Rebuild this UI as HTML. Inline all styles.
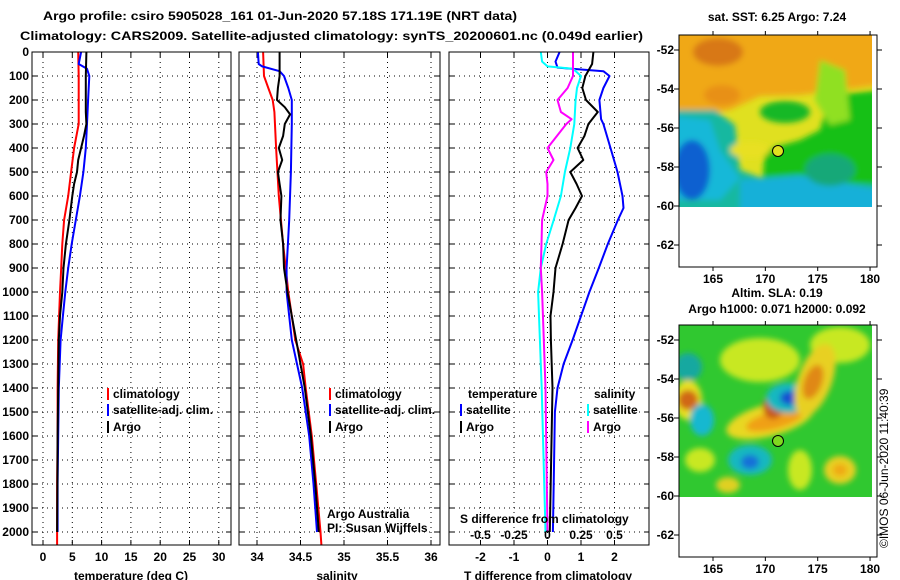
<!DOCTYPE html>
<html><head><meta charset="utf-8"><style>
html,body{margin:0;padding:0;background:#fff}
svg{display:block;font-family:"Liberation Sans",sans-serif}
.b{font-weight:bold;font-size:12px}
</style></head><body>
<svg id="chart" width="900" height="580" viewBox="0 0 900 580" xmlns="http://www.w3.org/2000/svg">
<defs>
<filter id="blur" x="-20%" y="-20%" width="140%" height="140%"><feGaussianBlur stdDeviation="3"/></filter>
<clipPath id="clipTop"><rect x="679" y="35" width="193" height="172"/></clipPath>
<clipPath id="clipBot"><rect x="679" y="325" width="193" height="172"/></clipPath>
</defs>
<text x="43" y="20" class="b" font-size="13" textLength="474" lengthAdjust="spacingAndGlyphs">Argo profile: csiro 5905028_161 01-Jun-2020 57.18S 171.19E (NRT data)</text>
<text x="20" y="40" class="b" font-size="13" textLength="623" lengthAdjust="spacingAndGlyphs">Climatology: CARS2009. Satellite-adjusted climatology: synTS_20200601.nc (0.049d earlier)</text>
<g id="panels"></g>
<g id="maps">
  <text x="777" y="21" class="b" text-anchor="middle">sat. SST: 6.25 Argo: 7.24</text>
  <g clip-path="url(#clipTop)">
    <rect x="679" y="35" width="193" height="172" fill="#e0e020"/>
    <g filter="url(#blur)">
      <polygon points="670,30 880,30 880,85 840,90 800,95 760,96 730,110 700,115 670,112" fill="#f0a818"/>
      <ellipse cx="718" cy="52" rx="25" ry="14" fill="#d87818"/>
      <ellipse cx="722" cy="95" rx="18" ry="10" fill="#e89018"/>
      <ellipse cx="785" cy="112" rx="25" ry="11" fill="#18b828"/>
      <polygon points="830,95 880,90 880,210 760,210 765,150 800,140 820,130" fill="#18c018"/>
      <polygon points="820,60 845,70 850,120 830,125 815,100" fill="#90e020"/>
      <polygon points="670,110 715,110 735,125 740,170 780,185 800,180 880,185 880,215 670,215" fill="#18b8a0"/>
      <polygon points="670,115 710,120 720,150 740,178 720,200 670,200" fill="#18b8d8"/>
      <polygon points="740,180 800,175 880,190 880,215 740,215" fill="#18b0d8"/>
      <ellipse cx="692" cy="170" rx="18" ry="30" fill="#1060d0"/>
      <ellipse cx="830" cy="170" rx="25" ry="16" fill="#18a878"/>
      <ellipse cx="750" cy="150" rx="20" ry="8" fill="#e8e020"/>
    </g>
  </g>
  <rect x="679" y="35" width="198" height="232" fill="none" stroke="#000" stroke-width="1"/>
  <circle cx="778" cy="151" r="5.5" fill="#e0e020" stroke="#000"/>
  <text x="777" y="297" class="b" text-anchor="middle">Altim. SLA: 0.19</text>
  <text x="777" y="313" class="b" text-anchor="middle">Argo h1000: 0.071 h2000: 0.092</text>
  <g clip-path="url(#clipBot)">
    <rect x="679" y="325" width="193" height="172" fill="#30c830"/>
    <g filter="url(#blur)">
      <ellipse cx="760" cy="360" rx="40" ry="22" fill="#c8e820"/>
      <ellipse cx="840" cy="345" rx="30" ry="18" fill="#c8e820"/>
      <ellipse cx="688" cy="367" rx="14" ry="14" fill="#18a8a0"/>
      <ellipse cx="688" cy="400" rx="14" ry="20" fill="#e8e020"/>
      <ellipse cx="688" cy="400" rx="10" ry="10" fill="#d06818"/>
      <ellipse cx="702" cy="420" rx="12" ry="16" fill="#18b8d0"/>
      <ellipse cx="770" cy="420" rx="45" ry="16" fill="#e8d820" transform="rotate(-15 770 420)"/>
      <ellipse cx="775" cy="420" rx="30" ry="9" fill="#f0a018" transform="rotate(-15 775 420)"/>
      <ellipse cx="773" cy="407" rx="10" ry="12" fill="#c85818"/>
      <ellipse cx="788" cy="398" rx="22" ry="15" fill="#18b8c0"/>
      <ellipse cx="790" cy="398" rx="10" ry="7" fill="#1850d0"/>
      <ellipse cx="815" cy="380" rx="17" ry="38" fill="#e8d020" transform="rotate(20 815 380)"/>
      <ellipse cx="813" cy="382" rx="9" ry="18" fill="#e08818" transform="rotate(20 813 382)"/>
      <ellipse cx="750" cy="460" rx="22" ry="15" fill="#18b8c0"/>
      <ellipse cx="750" cy="462" rx="9" ry="7" fill="#1870d8"/>
      <ellipse cx="840" cy="470" rx="16" ry="14" fill="#e8d020"/>
      <ellipse cx="840" cy="470" rx="7" ry="6" fill="#f0a818"/>
      <ellipse cx="700" cy="460" rx="15" ry="12" fill="#c8e820"/>
      <ellipse cx="728" cy="485" rx="12" ry="8" fill="#e0d020"/>
      <ellipse cx="800" cy="470" rx="12" ry="20" fill="#c8e820"/>
    </g>
  </g>
  <rect x="679" y="325" width="198" height="232" fill="none" stroke="#000" stroke-width="1"/>
  <circle cx="778" cy="441" r="5.5" fill="#80d820" stroke="#000"/>
  <text x="0" y="0" font-size="12" transform="translate(888 548) rotate(-90)">©IMOS 06-Jun-2020 11:40:39</text>
</g>
</svg>
<script>
// ---- data ----
var depthTicks = [0,100,200,300,400,500,600,700,800,900,1000,1100,1200,1300,1400,1500,1600,1700,1800,1900,2000];
var tempTicks = [0,5,10,15,20,25,30];
var salTicks = [34,34.5,35,35.5,36];
var salTickLabels = ["34","34.5","35","35.5","36"];
var tdiffTicks = [-2,-1,0,1,2];
var sdiffTicks = [-0.5,-0.25,0,0.25,0.5];
var sdiffTickLabels = ["-0.5","-0.25","0","0.25","0.5"];
var latTicks = [-52,-54,-56,-58,-60,-62];
var lonTicks = [165,170,175,180];

var tClimDepth = [0,100,200,300,400,500,600,700,800,900,1000,1200,1400,1600,1800,2000,2054];
var tClimVal   = [6.0,6.1,6.1,6.1,5.3,4.8,4.3,3.6,3.3,3.1,2.9,2.6,2.5,2.5,2.4,2.4,2.4];
var tSatDepth  = [0,50,70,100,200,300,400,500,600,700,800,900,1000,1100,1200,1400,1600,1800,2000];
var tSatVal    = [6.5,6.1,7.5,7.9,7.7,7.5,7.3,6.9,6.3,5.6,4.9,4.3,3.8,3.4,3.0,2.7,2.6,2.5,2.5];
var tArgoDepth = [0,100,250,300,350,400,450,500,550,600,700,800,900,1000,1100,1200,1400,1600,1800,2000];
var tArgoVal   = [7.4,7.3,7.3,7.4,7.0,6.5,6.0,5.8,5.3,5.0,4.5,3.9,3.5,3.3,2.9,2.7,2.6,2.5,2.45,2.4];

var sClimDepth = [0,100,150,200,250,400,600,800,1000,1200,1300,1400,1600,1800,2000,2054];
var sClimVal   = [34.07,34.08,34.13,34.18,34.2,34.22,34.25,34.3,34.36,34.44,34.53,34.56,34.63,34.68,34.73,34.74];
var sSatDepth  = [0,50,60,80,100,150,200,300,500,700,900,1000,1100,1200,1300,1400,1600,1800,2000];
var sSatVal    = [34.01,34.02,34.06,34.26,34.31,34.36,34.4,34.4,34.39,34.37,34.34,34.34,34.37,34.4,34.46,34.52,34.6,34.65,34.69];
var sArgoDepth = [0,100,150,200,230,260,300,350,400,450,500,550,600,700,800,900,1000,1100,1200,1300,1400,1600,1800,2000];
var sArgoVal   = [34.26,34.26,34.24,34.23,34.32,34.38,34.32,34.3,34.25,34.29,34.24,34.26,34.28,34.27,34.3,34.31,34.35,34.4,34.45,34.5,34.55,34.62,34.67,34.71];

var dtSatDepth = [0,40,65,80,100,150,200,280,300,400,500,600,650,700,800,900,1000,1100,1200,1300,1400,1500,2000];
var dtSatVal   = [0.36,0.24,0.3,1.67,1.85,1.67,1.55,1.6,1.67,1.88,2.09,2.24,2.27,2.1,1.8,1.53,1.25,1.0,0.75,0.48,0.3,0.22,0.16];
var dtArgoDepth = [0,50,100,150,200,250,300,350,400,450,500,550,600,650,700,750,800,900,1000,1100,1200,1400,2000];
var dtArgoVal   = [1.37,1.33,1.13,1.04,1.15,1.5,1.22,1.1,0.9,1.07,0.68,0.87,1.03,0.84,0.63,0.54,0.45,0.24,0.18,0.09,0.1,0.15,0.07];
var dsArgoDepth = [0,100,150,200,250,280,300,350,400,450,500,550,600,700,800,900,1000,1400,2000];
var dsArgoVal   = [0.19,0.19,0.15,0.075,0.1,0.18,0.14,0.07,0.0,0.045,-0.01,0.0,0.0,-0.04,-0.045,-0.05,-0.04,-0.015,0.0];
var dsSatDepth = [0,40,60,70,100,150,200,300,400,500,600,700,800,900,1000,1400,2000];
var dsSatVal   = [-0.05,-0.04,0.0,0.19,0.25,0.22,0.21,0.2,0.17,0.13,0.1,0.046,-0.01,-0.05,-0.07,-0.043,-0.015];

// ---- layout ----
var NS = "http://www.w3.org/2000/svg";
var g = document.getElementById('panels');
var top0 = 52, bot = 545;
function yD(d){ return top0 + d*0.24; }
var P1 = {l:32, r:231, x:function(v){return 43 + v*5.86;}};
var P2 = {l:239, r:440, x:function(v){return 257 + (v-34)*87;}};
var P3 = {l:449, r:649, x:function(v){return 547.5 + v*33.5;}};
function xS(v){ return 547.5 + v*134; }

function mk(tag, attrs, parent){
  var e = document.createElementNS(NS, tag);
  for (var k in attrs) e.setAttribute(k, attrs[k]);
  (parent||g).appendChild(e);
  return e;
}
function txt(x,y,s,cls,anchor,parent){
  var t = mk('text',{x:x,y:y,'class':cls||'b','text-anchor':anchor||'start'},parent);
  t.textContent = s;
  return t;
}
function frame(P, name){
  var r = mk('rect',{x:P.l,y:top0,width:P.r-P.l,height:bot-top0,fill:'none',stroke:'#000','stroke-width':1});
  
  
}
function hgrid(P){
  depthTicks.forEach(function(d){
    var y = yD(d);
    mk('line',{x1:P.l,x2:P.r,y1:y,y2:y,stroke:'#000','stroke-dasharray':'1,4'});
    mk('line',{x1:P.l,x2:P.l+5,y1:y,y2:y,stroke:'#000'});
    mk('line',{x1:P.r-5,x2:P.r,y1:y,y2:y,stroke:'#000'});
  });
}
function vgrid(P, ticks, fx){
  ticks.forEach(function(v){
    var x = fx(v);
    mk('line',{x1:x,x2:x,y1:top0,y2:bot,stroke:'#000','stroke-dasharray':'1,4'});
    mk('line',{x1:x,x2:x,y1:top0,y2:top0+5,stroke:'#000'});
    mk('line',{x1:x,x2:x,y1:bot-5,y2:bot,stroke:'#000'});
  });
}
function series(depths, vals, fx, color, name, w){
  var pts = depths.map(function(d,i){ return fx(vals[i]).toFixed(1)+','+yD(d).toFixed(1); }).join(' ');
  var p = mk('polyline',{points:pts,fill:'none',stroke:color,'stroke-width':w||2,'stroke-linejoin':'round'});
  
  
}
function legendItem(x,y,color,label,name){
  mk('rect',{x:x,y:y-10,width:2,height:12,fill:color});
  var t = txt(x+6,y,label);
  
  
}

// depth labels
depthTicks.forEach(function(d){
  var t = txt(29, yD(d)+4, String(d), 'b', 'end');
  
  
});

// panel 1
hgrid(P1); vgrid(P1, tempTicks, P1.x);
tempTicks.forEach(function(v){ txt(P1.x(v), 561, String(v), 'b', 'middle'); });
txt(131, 580, 'temperature (deg C)', 'b', 'middle');
series(tClimDepth, tClimVal, P1.x, '#ff0000', 'temp-climatology-line');
series(tSatDepth, tSatVal, P1.x, '#0000ff', 'temp-satellite-line');
series(tArgoDepth, tArgoVal, P1.x, '#000000', 'temp-argo-line');
legendItem(107,398,'#ff0000','climatology','legend-climatology-1');
legendItem(107,414,'#0000ff','satellite-adj. clim.','legend-satellite-1');
legendItem(107,431,'#000000','Argo','legend-argo-1');
frame(P1,'temperature-panel');

// panel 2
hgrid(P2); vgrid(P2, salTicks, P2.x);
salTicks.forEach(function(v,i){ txt(P2.x(v), 561, salTickLabels[i], 'b', 'middle'); });
txt(337, 580, 'salinity', 'b', 'middle');
series(sClimDepth, sClimVal, P2.x, '#ff0000', 'sal-climatology-line');
series(sSatDepth, sSatVal, P2.x, '#0000ff', 'sal-satellite-line');
series(sArgoDepth, sArgoVal, P2.x, '#000000', 'sal-argo-line');
legendItem(329,398,'#ff0000','climatology','legend-climatology-2');
legendItem(329,414,'#0000ff','satellite-adj. clim.','legend-satellite-2');
legendItem(329,431,'#000000','Argo','legend-argo-2');
var t1 = txt(327,518,'Argo Australia','', 'start'); t1.setAttribute('font-size','12');
var t2 = txt(327,532,'PI: Susan Wijffels','', 'start'); t2.setAttribute('font-size','12');
frame(P2,'salinity-panel');

// panel 3
hgrid(P3); vgrid(P3, tdiffTicks, P3.x);
tdiffTicks.forEach(function(v){ txt(P3.x(v), 561, String(v), 'b', 'middle'); });
txt(548, 580, 'T difference from climatology', 'b', 'middle');
series(dtSatDepth, dtSatVal, P3.x, '#0000ff', 'tdiff-satellite-line');
series(dtArgoDepth, dtArgoVal, P3.x, '#000000', 'tdiff-argo-line');
series(dsSatDepth, dsSatVal, xS, '#00ffff', 'sdiff-satellite-line');
series(dsArgoDepth, dsArgoVal, xS, '#ff00ff', 'sdiff-argo-line');
txt(468,398,'temperature'); txt(594,398,'salinity');
legendItem(460,414,'#0000ff','satellite','legend-tdiff-satellite');
legendItem(460,431,'#000000','Argo','legend-tdiff-argo');
legendItem(587,414,'#00ffff','satellite','legend-sdiff-satellite');
legendItem(587,431,'#ff00ff','Argo','legend-sdiff-argo');
txt(460,523,'S difference from climatology');
sdiffTicks.forEach(function(v,i){ txt(xS(v), 539, sdiffTickLabels[i], 'b', 'middle'); });
frame(P3,'difference-panel');

// map axes
var mg = document.getElementById('maps');
function mlon(l){ return 713 + (l-165)*10.47; }
[[50,283],[340,573]].forEach(function(m){
  var y0 = m[0];
  latTicks.forEach(function(lat){
    var y = y0 + (-52 - lat)*19.5;
    mk('line',{x1:674,x2:679,y1:y,y2:y,stroke:'#000'},mg);
    mk('line',{x1:877,x2:882,y1:y,y2:y,stroke:'#000'},mg);
    txt(674, y+4, String(lat), 'b', 'end', mg);
  });
  var bottomY = y0 - 15 + 232;
  lonTicks.forEach(function(lon){
    var x = mlon(lon);
    mk('line',{x1:x,x2:x,y1:y0-15-4,y2:y0-15,stroke:'#000'},mg);
    mk('line',{x1:x,x2:x,y1:bottomY,y2:bottomY+4,stroke:'#000'},mg);
    txt(x, m[1], String(lon), 'b', 'middle', mg);
  });
});
</script>
</body></html>
